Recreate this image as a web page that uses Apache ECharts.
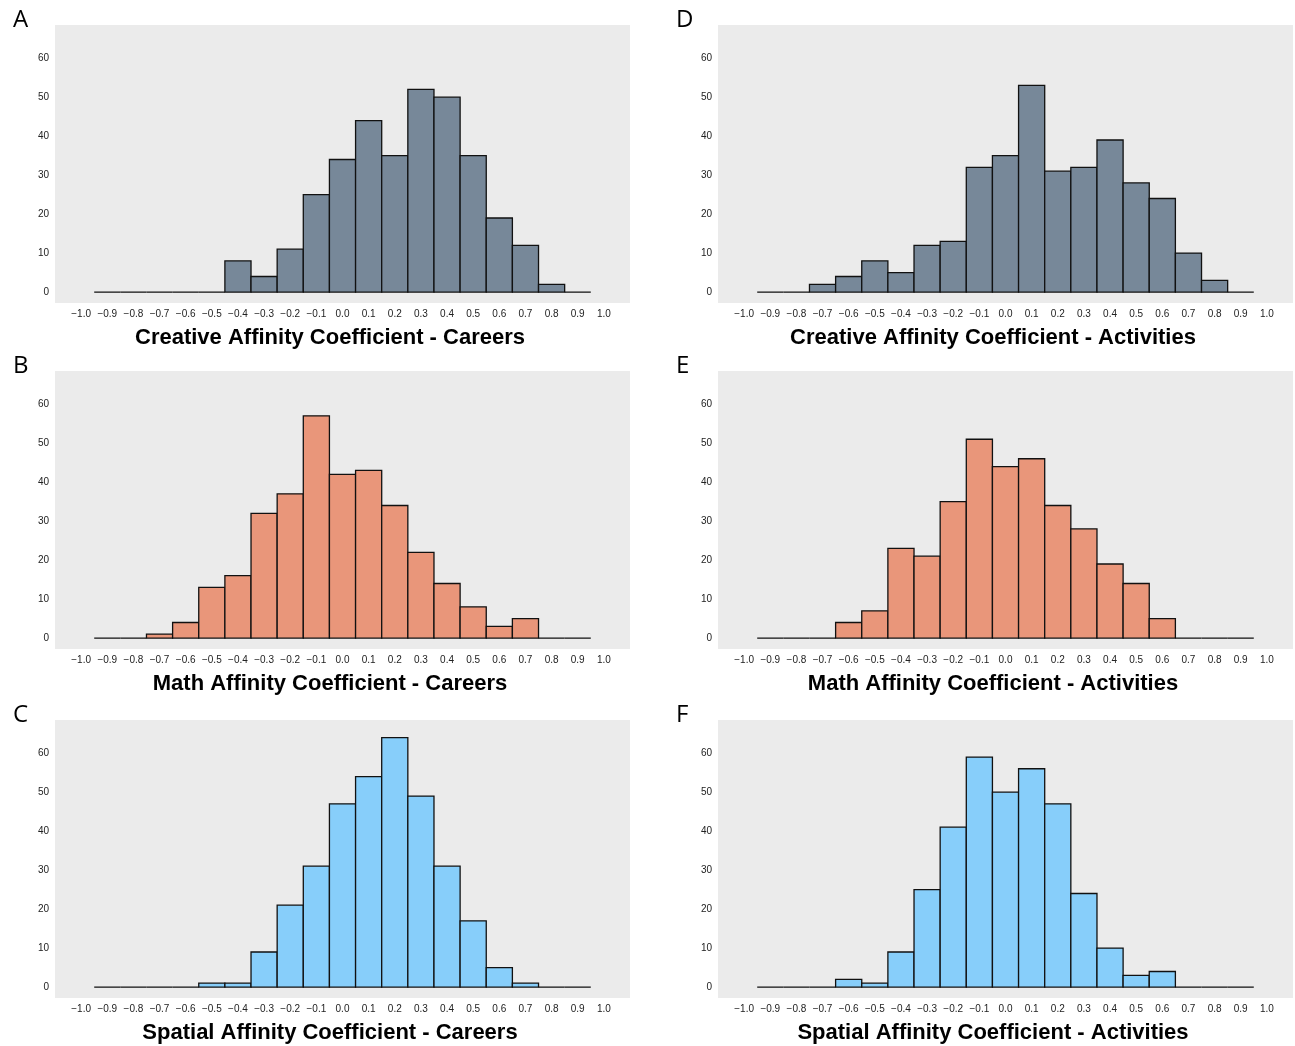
<!DOCTYPE html>
<html>
<head>
<meta charset="utf-8">
<script src="https://cdn.jsdelivr.net/npm/echarts@6/dist/echarts.min.js"></script>
<style>
  html, body { margin: 0; padding: 0; background: #fff; }
  #container { width: 1295px; height: 1046px; }
</style>
</head>
<body>
<div id="container"></div>
<script>
// bin centres (width 0.1) and tick labels
var bins = [-0.9, -0.8, -0.7, -0.6, -0.5, -0.4, -0.3, -0.2, -0.1, 0.0, 0.1, 0.2, 0.3, 0.4, 0.5, 0.6, 0.7, 0.8, 0.9];
var xTicks = [-1.0, -0.9, -0.8, -0.7, -0.6, -0.5, -0.4, -0.3, -0.2, -0.1, 0.0, 0.1, 0.2, 0.3, 0.4, 0.5, 0.6, 0.7, 0.8, 0.9, 1.0];
var yTicks = [0, 10, 20, 30, 40, 50, 60];

// counts per bin
var creativeCareers    = [0, 0, 0, 0, 0, 8, 4, 11, 25, 34, 44, 35, 52, 50, 35, 19, 12, 2, 0];
var creativeActivities = [0, 0, 2, 4, 8, 5, 12, 13, 32, 35, 53, 31, 32, 39, 28, 24, 10, 3, 0];
var mathCareers        = [0, 0, 1, 4, 13, 16, 32, 37, 57, 42, 43, 34, 22, 14, 8, 3, 5, 0, 0];
var mathActivities     = [0, 0, 0, 4, 7, 23, 21, 35, 51, 44, 46, 34, 28, 19, 14, 5, 0, 0, 0];
var spatialCareers     = [0, 0, 0, 0, 1, 1, 9, 21, 31, 47, 54, 64, 49, 31, 17, 5, 1, 0, 0];
var spatialActivities  = [0, 0, 0, 2, 1, 9, 25, 41, 59, 50, 56, 47, 24, 10, 3, 4, 0, 0, 0];

var panels = [
  {letter: 'A', title: 'Creative Affinity Coefficient - Careers',    data: creativeCareers,    color: '#778899', left: 55,  top: 25},
  {letter: 'B', title: 'Math Affinity Coefficient - Careers',        data: mathCareers,        color: '#e9967a', left: 55,  top: 371},
  {letter: 'C', title: 'Spatial Affinity Coefficient - Careers',     data: spatialCareers,     color: '#87cefa', left: 55,  top: 720},
  {letter: 'D', title: 'Creative Affinity Coefficient - Activities', data: creativeActivities, color: '#778899', left: 718, top: 25},
  {letter: 'E', title: 'Math Affinity Coefficient - Activities',     data: mathActivities,     color: '#e9967a', left: 718, top: 371},
  {letter: 'F', title: 'Spatial Affinity Coefficient - Activities',  data: spatialActivities,  color: '#87cefa', left: 718, top: 720}
];

var myChart = echarts.init(document.getElementById('container'));

function fmt(v) {
  var s = Math.abs(v).toFixed(1);
  return v < -1e-9 ? '\u2212' + s : s;
}

var grid = [], xAxis = [], yAxis = [], series = [], title = [];

panels.forEach(function (p, i) {
  grid.push({
    show: true, backgroundColor: '#ebebeb', borderWidth: 0,
    left: p.left, top: p.top, width: 575, height: 278
  });
  xAxis.push({
    type: 'value', gridIndex: i, min: -1.1, max: 1.1,
    axisLine: {show: false}, axisTick: {show: false}, splitLine: {show: false},
    axisLabel: {customValues: xTicks, formatter: fmt, fontSize: 10, color: '#222', margin: 6, fontFamily: 'Liberation Sans'}
  });
  yAxis.push({
    type: 'value', gridIndex: i, min: -2.8, max: 68.5,
    axisLine: {show: false}, axisTick: {show: false}, splitLine: {show: false},
    axisLabel: {customValues: yTicks, fontSize: 10, color: '#222', margin: 6, fontFamily: 'Liberation Sans'}
  });
  title.push({
    text: p.letter, left: p.left - 47, top: p.top - 22,
    textStyle: {fontSize: 24, fontWeight: 'normal', color: '#000', fontFamily: 'Open Sans'}
  });
  // axis title under each panel
  title.push({
    text: p.title, left: p.left + 275, top: p.top + 302, textAlign: 'center', padding: 0,
    textStyle: {fontSize: 22, fontWeight: 'bold', color: '#000', fontFamily: 'Liberation Sans'}
  });
  var color = p.color;
  series.push({
    type: 'custom', xAxisIndex: i, yAxisIndex: i,
    data: bins.map(function (b, k) { return [b, p.data[k]]; }),
    renderItem: function (params, api) {
      var x = api.value(0), y = api.value(1);
      var p0 = api.coord([x - 0.05, y]);
      var p1 = api.coord([x + 0.05, 0]);
      return {
        type: 'rect',
        shape: {x: p0[0], y: p0[1], width: p1[0] - p0[0], height: p1[1] - p0[1]},
        style: {fill: color, stroke: '#111', lineWidth: 1.3}
      };
    },
    silent: true
  });
});

var option = {
  animation: false,
  title: title,
  grid: grid,
  xAxis: xAxis,
  yAxis: yAxis,
  series: series
};

myChart.setOption(option);
</script>
</body>
</html>
